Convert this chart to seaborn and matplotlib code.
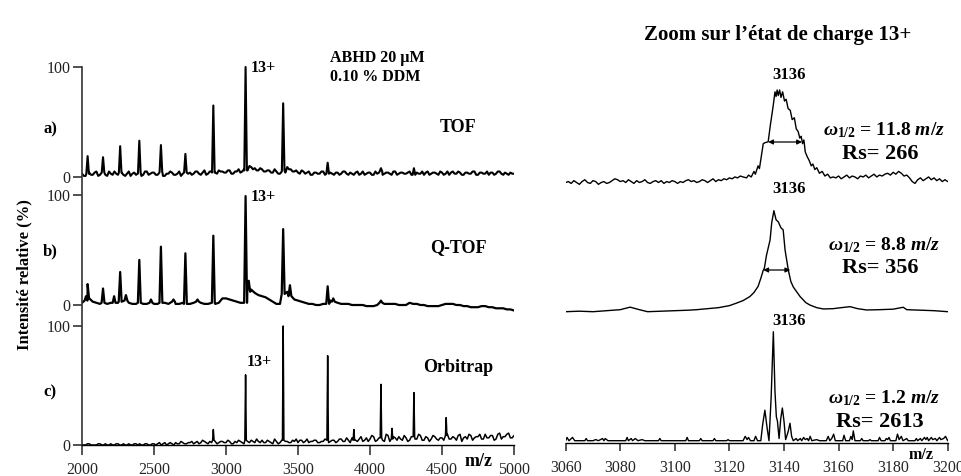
import numpy as np
import matplotlib
matplotlib.use("Agg")
import matplotlib.pyplot as plt
import seaborn as sns

# ---------------- data ----------------
# Left: full spectra (m/z 2000-5000), baseline samples every 25 m/z (+ midpoints) + peak list
grid_mz = list(range(2000, 5001, 25))
mid_mz = [m + 12.5 for m in range(2000, 5000, 25)]

tof_base = [3,1,4,2,5,2,4,1,3,5,
            2,4,1,5,3,2,4,2,5,3,
            4,2,5,1,3,4,2,5,3,2,
            4,3,5,2,6,3,5,4,6,5,
            4,6,3,5,4,7,6,9,8,6,
            7,5,6,4,5,3,6,9,7,5,
            4,6,3,5,2,4,3,5,3,4,
            2,4,3,5,2,3,4,2,5,3,
            4,2,3,5,3,4,2,5,3,4,
            3,5,2,4,3,2,5,3,4,2,
            4,3,2,5,3,4,2,4,3,5,
            2,4,3,2,4,3,5,2,3,4,
            3]
tof_mid = [1,3,2,4,1,3,2,5,2,3,
           4,2,3,1,4,3,1,5,2,4,
           2,4,1,3,5,2,3,1,4,3,
           2,5,3,4,2,5,4,3,5,4,
           6,3,5,7,5,6,10,7,6,8,
           5,6,4,7,3,5,4,7,5,6,
           3,5,4,2,4,3,5,2,4,3,
           4,2,5,3,4,2,5,3,2,4,
           2,5,4,2,4,3,5,2,4,3,
           4,2,4,3,5,4,2,4,3,5,
           2,5,4,3,5,2,4,3,5,2,
           4,3,5,4,2,5,3,4,2,3]
tof_peak_mz = [2039, 2146, 2265, 2398, 2548, 2718, 2912, 3136, 3397, 3706, 4076, 4305]
tof_peak_int = [19, 18, 28, 33, 29, 21, 65, 100, 67, 13, 8, 8]

qtof_base = [2,4,6,3,2,1,2,1,2,2,
             2,3,4,2,1,1,2,1,1,2,
             1,1,2,2,1,3,1,1,2,1,
             1,2,3,2,1,1,2,1,2,6,
             6,5,4,3,2,2,12,14,11,9,
             8,7,5,3,1,1,10,12,8,5,
             4,3,2,1,1,0,0,1,1,4,
             3,2,1,1,1,0,0,0,0,-1,
             -1,-1,0,2,1,1,1,1,0,0,
             0,2,1,1,0,0,-1,-1,-1,-1,
             0,1,1,1,0,0,-1,-1,-2,-2,
             -2,-1,-1,-2,-2,-3,-3,-3,-4,-4,
             -5]
qtof_peak_mz = [2028, 2039, 2146, 2223, 2265, 2305, 2398, 2479, 2548, 2635, 2718, 2802,
                2912, 3136, 3158, 3397, 3444, 3706, 3745, 4076]
qtof_peak_int = [8, 19, 15, 8, 30, 9, 41, 5, 53, 5, 47, 5,
                 63, 99, 22, 69, 18, 17, 6, 4]

orbi_base = [0,0,1,0,0,1,0,0,1,0,
             1,0,0,1,0,1,1,0,1,0,
             1,1,0,2,1,1,2,1,2,1,
             2,1,3,2,3,1,2,3,2,3,
             2,3,1,2,3,1,3,4,2,3,
             4,2,3,1,3,2,4,3,2,3,
             2,4,3,2,3,4,2,3,4,3,
             4,3,5,3,4,6,4,5,3,6,
             5,7,4,6,3,8,5,6,7,4,
             6,4,7,5,8,4,6,5,7,4,
             6,8,5,7,4,9,6,5,8,6,
             7,5,9,6,8,5,10,7,9,6,
             8]
orbi_mid = [0,1,0,0,1,0,1,0,0,1,
            0,1,0,0,1,0,0,1,0,1,
            0,2,1,0,2,0,1,3,1,2,
            3,2,1,4,2,3,4,1,3,2,
            4,1,3,4,2,4,2,3,5,2,
            2,4,2,5,1,4,3,2,4,5,
            4,2,5,3,4,2,3,5,2,4,
            2,5,3,6,2,4,3,7,4,3,
            8,3,6,4,9,3,7,4,5,8,
            3,7,5,9,4,7,3,8,5,6,
            4,9,5,6,8,3,7,9,4,7,
            9,5,6,8,4,9,5,7,10,6]
orbi_peak_mz = [2912, 3136, 3397, 3706, 3888, 4076, 4153, 4305, 4529]
orbi_peak_int = [13, 59, 100, 75, 13, 51, 14, 44, 23]

# Right: zoom on the 13+ charge state (m/z 3060-3200)
tofz_lead = [0,1,-1,2,0,-2,1,3,0,-1,
             2,1,-2,0,1,-1,0,2,4,3,
             1,2,0,3,1,-1,2,0,1,3,
             0,-1,1,2,0,2,-1,1,0,2,
             1,-1,1,0,2,3,1,2,0,1,
             3,2,0,2,4,1,3,2,4,3,
             5,4,6,5,7]                      # m/z 3060..3124
tofz_peak_mz = [3125, 3126.3, 3127, 3128, 3129, 3129.5, 3130.5, 3131, 3131.8, 3132.4,
                3133, 3134.2, 3135, 3136, 3136.7, 3137.1, 3137.5, 3137.9, 3138.4, 3138.9,
                3139.5, 3140.2, 3140.8, 3141.5, 3142.3, 3143, 3143.8, 3144.5, 3145.2, 3145.8,
                3146.3, 3146.8, 3147.3, 3147.8, 3148.5, 3149.2, 3150, 3150.6, 3151.3, 3152,
                3153, 3154, 3155, 3156, 3157, 3158]
tofz_peak_int = [6, 5, 8, 6, 12, 9, 18, 15, 30, 42,
                 43, 44, 62, 82, 98, 93, 100, 94, 100, 92,
                 98, 88, 90, 80, 78, 68, 70, 58, 55, 48,
                 50, 42, 46, 33, 28, 24, 18, 20, 14, 16,
                 10, 12, 7, 9, 5, 6]
tofz_tail = [5,7,4,6,8,5,7,6,4,7,
             6,8,5,7,9,6,8,7,9,10,
             8,11,9,12,10,7,8,5,1,-1,
             3,5,2,4,6,3,5,2,4,1,3,1]      # m/z 3159..3200

qtofz_mz = [3060, 3065, 3070, 3075, 3080, 3083.6, 3087, 3090, 3095, 3100, 3105, 3108,
            3112, 3116, 3120, 3122.7, 3125, 3127.5, 3129, 3130.5, 3131.5, 3132.4, 3132.8,
            3133.6, 3134.9, 3135.5, 3136.3, 3137.1, 3137.9, 3138.9, 3139.7, 3140.4, 3141.6,
            3142.5, 3143.4, 3145.9, 3148, 3149.5, 3152, 3154.4, 3158, 3161, 3164.2, 3167,
            3170.3, 3175, 3180, 3183.7, 3185, 3190, 3195, 3200]
qtofz_int = [0, 0.5, 0, 1, 2, 4.5, 2, 0, 0.5, 1, 1.5, 2,
             3, 4, 6, 8.6, 11, 15, 19, 25, 33, 41, 43,
             56, 71, 88, 100, 91, 89, 83, 81, 61, 41,
             30, 24.5, 15, 9, 6.6, 4, 2.7, 3, 4, 5, 3,
             1.7, 2, 2.5, 4.4, 2, 1.5, 1, 0]

orbiz_mz = [3060, 3060.5, 3061.2, 3062.5, 3063.3, 3067, 3067.5, 3068, 3070, 3071, 3072,
            3073.5, 3074, 3074.5, 3075.5, 3078, 3082, 3082.5, 3083, 3084, 3084.5, 3085.5,
            3086.5, 3088, 3089, 3094, 3094.5, 3095, 3104, 3104.5, 3105, 3109, 3109.5, 3110,
            3114, 3114.5, 3115, 3119, 3119.5, 3120, 3125, 3125.8, 3126.5, 3127, 3127.7,
            3129, 3129.6, 3130.3, 3131.5, 3132.2, 3133, 3133.8, 3134.5, 3135.3, 3136.1,
            3136.7, 3137.2, 3137.6, 3138.2, 3138.8, 3139.4, 3140, 3140.6, 3141.5, 3142.2,
            3142.8, 3143.4, 3144.5, 3145, 3146, 3146.5, 3147.2, 3147.8, 3148.5, 3149,
            3149.6, 3150.2, 3152, 3153, 3155.5, 3156.2, 3156.8, 3157.5, 3158.2, 3158.8,
            3161.5, 3162, 3162.6, 3164, 3164.5, 3165, 3165.4, 3166, 3168, 3168.5, 3169,
            3171, 3171.5, 3172, 3174.5, 3175, 3175.6, 3177, 3177.5, 3178, 3178.5, 3179,
            3181, 3181.6, 3182.2, 3183, 3183.6, 3185, 3185.5, 3188, 3188.5, 3189, 3190,
            3190.5, 3191.5, 3192, 3192.5, 3193, 3194, 3194.5, 3195.5, 3196, 3197, 3197.5,
            3198.5, 3199.2, 3200]
orbiz_int = [0, 3, 0, 3, 0, 0, 2, 0, 0, 1, 0,
             2, 0, 2, 0, 0, 0, 3, 0, 2, 0, 2,
             0, 1, 0, 0, 2, 0, 0, 3, 0, 0, 2, 0,
             0, 2, 0, 0, 1, 0, 0, 4, 1, 3, 0,
             0, 4, 0, 0, 15, 28, 12, 0, 40, 100,
             45, 22, 18, 2, 20, 30, 18, 1, 8, 16,
             4, 0, 2, 0, 2, 0, 3, 1, 2, 0,
             4, 0, 1, 0, 0, 4, 0, 2, 6, 0,
             0, 5, 0, 0, 4, 1, 9, 0, 0, 2, 0,
             0, 1, 0, 0, 3, 0, 0, 2, 1, 3, 0,
             0, 6, 1, 4, 0, 2, 0, 0, 2, 0, 2,
             0, 3, 1, 3, 0, 3, 1, 2, 0, 3, 1,
             2, 4, 0]

x_ticks_left = [2000, 2500, 3000, 3500, 4000, 4500, 5000]
x_ticks_right = [3060, 3080, 3100, 3120, 3140, 3160, 3180, 3200]
instruments = ["TOF", "Q-TOF", "Orbitrap"]
panel_tags = ["a)", "b)", "c)"]
fwhm = ["11.8", "8.8", "1.2"]
resolution = ["266", "356", "2613"]

# ---------------- style ----------------
sns.set_theme(style="ticks")
plt.rcParams["font.family"] = ["Liberation Serif", "DejaVu Serif"]
plt.rcParams["mathtext.fontset"] = "custom"
plt.rcParams["mathtext.rm"] = "Liberation Serif:bold"
plt.rcParams["mathtext.it"] = "Liberation Serif:italic:bold"
plt.rcParams["mathtext.bf"] = "Liberation Serif:bold"

W, H = 962, 476
fig = plt.figure(figsize=(W / 100, H / 100), dpi=100)
fig.patch.set_facecolor("white")


def ftext(x, y, s, **kw):
    kw.setdefault("ha", "center")
    kw.setdefault("va", "center")
    fig.text(x / W, 1 - y / H, s, **kw)


def assemble(gmz, gval, pmz, pint, hw):
    gmz = np.asarray(gmz, float)
    gval = np.asarray(gval, float)
    o = np.argsort(gmz, kind="stable")
    gmz, gval = gmz[o], gval[o]
    keep = np.ones(len(gmz), bool)
    for c in pmz:
        keep &= np.abs(gmz - c) > hw
    xs = list(gmz[keep])
    ys = list(gval[keep])
    for c, h in zip(pmz, pint):
        b = gval[np.argmin(np.abs(gmz - c))]
        xs += [c - hw, c, c + hw]
        ys += [b, h, b]
    order = np.argsort(np.asarray(xs), kind="stable")
    return np.asarray(xs)[order], np.asarray(ys)[order]


# ---------------- left panel ----------------
axL = fig.add_axes([82 / W, 31 / H, 432 / W, 385 / H])
axL.set_facecolor("none")
axL.set_xlim(2000, 5000)
axL.set_ylim(0, 385)
left_layout = [(268, 1.10, 1.5, 9), (140, 1.10, 1.6, 10), (0, 1.19, 1.1, 5)]
left_data = [(grid_mz + mid_mz, tof_base + tof_mid, tof_peak_mz, tof_peak_int),
             (grid_mz, qtof_base, qtof_peak_mz, qtof_peak_int),
             (grid_mz + mid_mz, orbi_base + orbi_mid, orbi_peak_mz, orbi_peak_int)]
yt, ytl = [], []
for (base, sc, lw, hw), (gm, bv, pm, pi) in zip(left_layout, left_data):
    xs, ys = assemble(gm, bv, pm, pi, hw)
    sns.lineplot(x=xs, y=base + sc * ys, ax=axL, color="black", lw=lw,
                 estimator=None, sort=False)
    yt += [base, base + 100 * sc]
    ytl += ["0", "100"]
axL.set_yticks(yt)
axL.set_yticklabels(ytl)
axL.set_xticks(x_ticks_left)
axL.set_xticklabels([str(t) for t in x_ticks_left])
for s in ["top", "right"]:
    axL.spines[s].set_visible(False)
axL.spines["left"].set_bounds(0, 268 + 110)
axL.spines["left"].set_color("#333333")
axL.spines["left"].set_linewidth(1.2)
axL.spines["bottom"].set_bounds(2000, 5000)
axL.spines["bottom"].set_color("black")
axL.spines["bottom"].set_linewidth(1.0)
axL.tick_params(axis="y", direction="out", length=6.5, width=1.1, labelsize=11.5,
                pad=2, left=True, colors="#222222")
axL.tick_params(axis="x", direction="out", length=7, width=1.1, labelsize=11.5,
                pad=5, bottom=True)
axL.set_xlabel("")
axL.set_ylabel("")

# ---------------- right panel ----------------
axR = fig.add_axes([565.7 / W, 33 / H, 382 / W, 383 / H])
axR.set_facecolor("none")
axR.set_xlim(3060, 3200)
axR.set_ylim(0, 383)

tof_x = np.concatenate([np.linspace(3060, 3124, len(tofz_lead)),
                        np.asarray(tofz_peak_mz, float),
                        np.linspace(3159, 3200, len(tofz_tail))])
tof_y = np.concatenate([tofz_lead, tofz_peak_int, tofz_tail]).astype(float)
right_series = [(tof_x, tof_y, 260.5, 0.925),
                (np.asarray(qtofz_mz, float), np.asarray(qtofz_int, float), 131.3, 1.01),
                (np.asarray(orbiz_mz, float), np.asarray(orbiz_int, float), 2.3, 1.09)]
for xs, ys, base, sc in right_series:
    sns.lineplot(x=xs, y=base + sc * ys, ax=axR, color="black", lw=1.0,
                 estimator=None, sort=False)

for s in ["top", "right", "left"]:
    axR.spines[s].set_visible(False)
axR.spines["bottom"].set_bounds(3060, 3200)
axR.spines["bottom"].set_color("black")
axR.spines["bottom"].set_linewidth(1.0)
axR.set_yticks([])
axR.set_xticks(x_ticks_right)
axR.set_xticklabels([str(t) for t in x_ticks_right])
axR.tick_params(axis="x", direction="out", length=6, width=1.1, labelsize=11.5,
                pad=6, bottom=True)
axR.set_xlabel("")
axR.set_ylabel("")

# FWHM arrows
for (x0, x1, y) in [(3134.2, 3146.6, 301), (3132.4, 3142.3, 173)]:
    axR.annotate("", xy=(x1, y), xytext=(x0, y),
                 arrowprops=dict(arrowstyle="<|-|>", lw=0.9, color="black",
                                 shrinkA=0, shrinkB=0, mutation_scale=7))

# ---------------- texts ----------------
bold = dict(fontweight="bold", color="black")
ftext(24, 275, "Intensité relative (%)", rotation=90, fontsize=12, **bold)
for tag, y in zip(panel_tags, [129, 251, 392]):
    ftext(50, y, tag, fontsize=12, **bold)
for name, y in zip(instruments, [127, 248, 367]):
    ftext(458, y, name, fontsize=13, **bold)
ftext(330, 58, "ABHD 20 µM", ha="left", fontsize=11.5, **bold)
ftext(330, 77, "0.10 % DDM", ha="left", fontsize=11.5, **bold)
for x, y in [(251, 68), (251, 197), (247, 362)]:
    ftext(x, y, "13+", ha="left", fontsize=11.5, **bold)
ftext(479, 461, "m/z", fontsize=13, **bold)
ftext(921, 455, "m/z", fontsize=11.5, **bold)

ftext(778, 35, "Zoom sur l’état de charge 13+", fontsize=15, **bold)
for y in [75, 189, 321]:
    ftext(789, y, "3136", fontsize=12, **bold)
for w, r, yw, yr in zip(fwhm, resolution, [130, 245, 398], [154, 268, 422]):
    ftext(884, yw, r"$\omega_{1/2}$ = " + w + r" $m/z$", fontsize=14, **bold)
    ftext(880, yr, "Rs= " + r, fontsize=16, **bold)

fig.savefig("out.png", dpi=100, facecolor="white")
